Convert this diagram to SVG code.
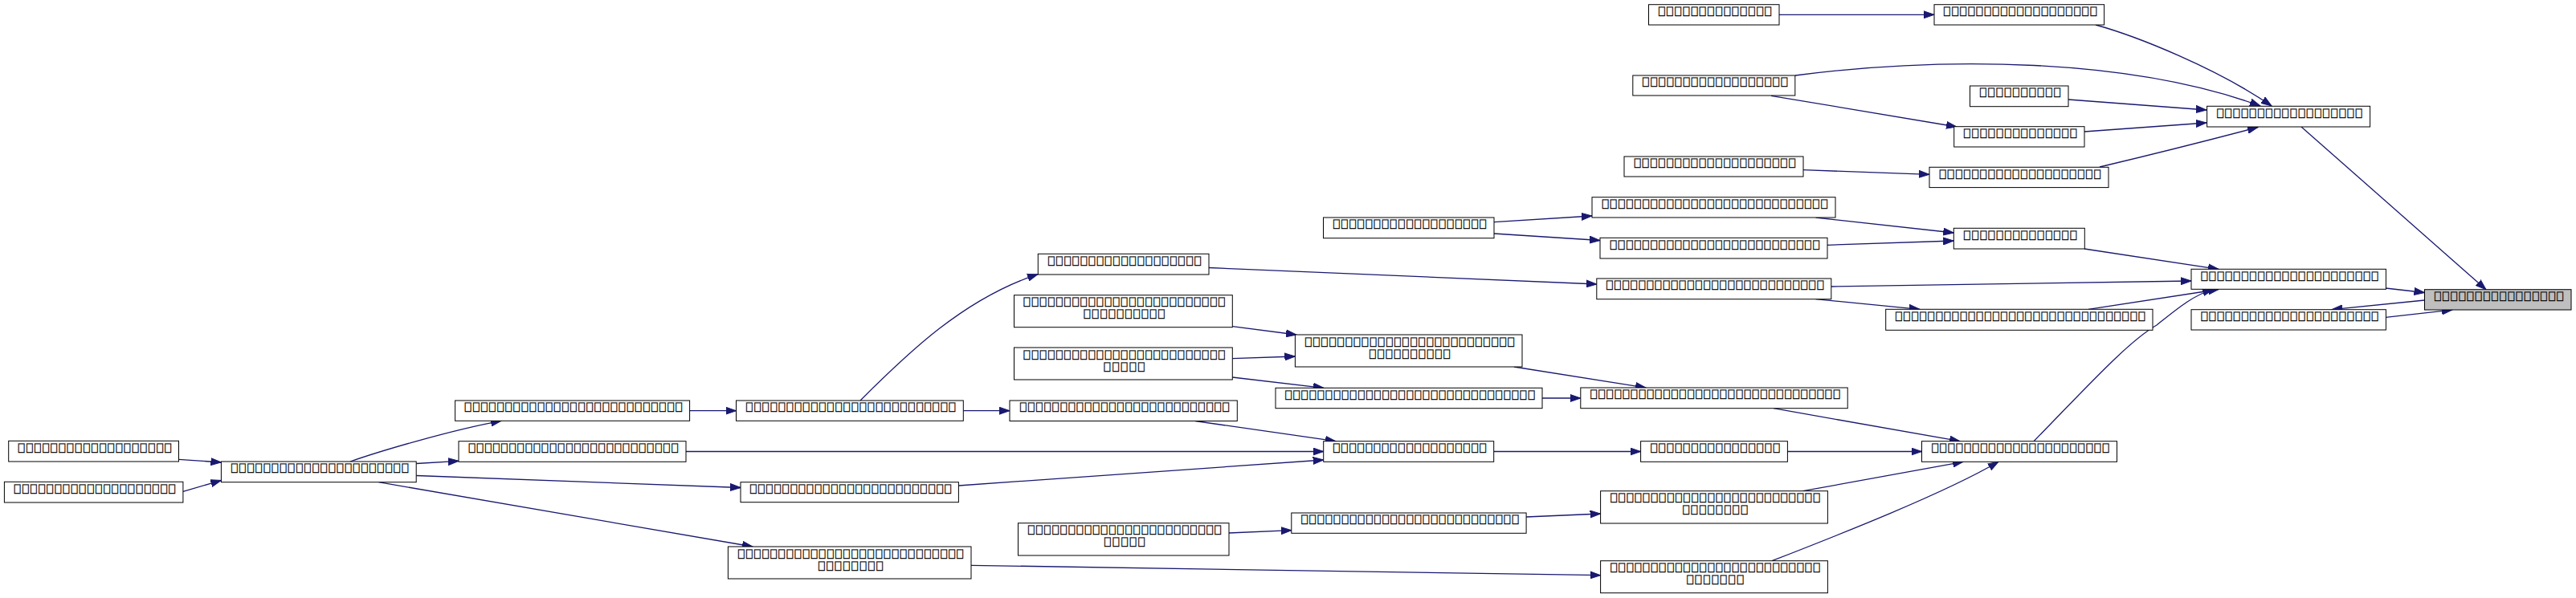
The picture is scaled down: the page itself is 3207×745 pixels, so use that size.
<svg xmlns="http://www.w3.org/2000/svg" width="3207" height="745" viewBox="0 0 3207 745">
<defs>
<marker id="arr" markerUnits="userSpaceOnUse" markerWidth="14" markerHeight="10" refX="13" refY="4.5" orient="auto" viewBox="0 0 14 9"><path d="M0,0 L13,4.5 L0,9 z" fill="#191970" stroke="#191970" stroke-width="1"/></marker>
</defs>
<style>
.n rect{fill:#fff;stroke:#000;stroke-width:1}
.n.main rect{fill:#bfbfbf}
.n text{font-family:"DejaVu Sans Mono",monospace;font-size:12.5px;fill:#000;stroke:#000;stroke-width:0.3;text-anchor:middle}
.e path{fill:none;stroke:#191970;stroke-width:1.3;marker-end:url(#arr)}
</style>
<rect width="3207" height="745" fill="#fff"/>
<g id="edges" class="e">
<path d="M2215,18.3 L2408,18.3"/>
<path d="M2609,31 C2660,45 2760,85 2828,132"/>
<path d="M2235,94 C2420,70 2650,72 2814,132"/>
<path d="M2205,119.3 L2436,158"/>
<path d="M2575,124 L2747,137"/>
<path d="M2595,164 L2747,153"/>
<path d="M2245,211.7 L2402,217.3"/>
<path d="M2614,208 C2660,197 2760,172 2811,158.5"/>
<path d="M2865,158 L3095,360.7"/>
<path d="M1860,276.7 L1982,269"/>
<path d="M1860,291 L1992,299.5"/>
<path d="M2260.5,271 L2432.3,290"/>
<path d="M2275,305.3 L2432.3,300"/>
<path d="M2595,310 L2762,335.3"/>
<path d="M2280,357 L2728,350"/>
<path d="M2260.5,372.7 L2390,385.3"/>
<path d="M2600,385.3 L2762,360.5"/>
<path d="M2532,549.7 C2600,480 2650,425 2685,405 C2710,385 2730,368 2755,360.5"/>
<path d="M2970,359 L3018.5,364.5"/>
<path d="M3018.5,374 L2903,385.7"/>
<path d="M2970,395.3 L3053,386"/>
<path d="M1505,333.5 L1987.8,354"/>
<path d="M1534.3,406.7 L1614,417"/>
<path d="M1534.3,446.7 L1612.4,444"/>
<path d="M1534.3,470 L1648,483.3"/>
<path d="M1885,457 L2049,483"/>
<path d="M1920,496 L1967.8,496"/>
<path d="M2208,508.7 L2440,549.7"/>
<path d="M2225.4,562.5 L2392.5,562.5"/>
<path d="M2244.7,611.7 L2444,575.3"/>
<path d="M2206,698.7 C2290,666 2420,615 2488,575.3"/>
<path d="M1488,524.5 L1663,549.7"/>
<path d="M1859.8,562.5 L2042.6,562.5"/>
<path d="M854,562.5 L1647.7,562.5"/>
<path d="M1193.4,605 L1647.7,573"/>
<path d="M436,575 C470,563 560,536 624,524.3"/>
<path d="M858.6,511.7 L916.5,511.7"/>
<path d="M1199.3,511.7 L1257,511.7"/>
<path d="M1071,499 C1130,440 1200,372 1292,341.7"/>
<path d="M518.2,577.5 L571,574.3"/>
<path d="M518.2,592.5 L922,607.5"/>
<path d="M471.4,600.7 L937,681"/>
<path d="M1209,704.3 L1992.6,716.7"/>
<path d="M1530,664 L1607.8,660.7"/>
<path d="M1900,644 L1992.6,640"/>
<path d="M222.5,572.3 L275.4,576"/>
<path d="M227.9,612.3 L275.4,598.5"/>
</g>
<g id="nMain" class="n main"><rect x="3018.5" y="360.7" width="182.5" height="25.3"/><text x="3110.9" y="374" textLength="160">⎕⎕⎕⎕⎕⎕⎕⎕⎕⎕⎕⎕⎕⎕⎕⎕</text></g>
<g id="nC" class="n"><rect x="2052.5" y="5.7" width="162.5" height="25.3"/><text x="2134.9" y="19" textLength="140">⎕⎕⎕⎕⎕⎕⎕⎕⎕⎕⎕⎕⎕⎕</text></g>
<g id="nB" class="n"><rect x="2408" y="5.7" width="211.6" height="25.3"/><text x="2515" y="19" textLength="190">⎕⎕⎕⎕⎕⎕⎕⎕⎕⎕⎕⎕⎕⎕⎕⎕⎕⎕⎕</text></g>
<g id="nD" class="n"><rect x="2032.8" y="94" width="202" height="25"/><text x="2135" y="107.3" textLength="180">⎕⎕⎕⎕⎕⎕⎕⎕⎕⎕⎕⎕⎕⎕⎕⎕⎕⎕</text></g>
<g id="nE" class="n"><rect x="2452.5" y="107" width="122.5" height="25.7"/><text x="2514.9" y="120.3" textLength="100">⎕⎕⎕⎕⎕⎕⎕⎕⎕⎕</text></g>
<g id="nF" class="n"><rect x="2432.7" y="157.7" width="162.3" height="25.3"/><text x="2515" y="171" textLength="140">⎕⎕⎕⎕⎕⎕⎕⎕⎕⎕⎕⎕⎕⎕</text></g>
<g id="nH" class="n"><rect x="2022" y="195" width="223" height="25"/><text x="2134.7" y="208.3" textLength="200">⎕⎕⎕⎕⎕⎕⎕⎕⎕⎕⎕⎕⎕⎕⎕⎕⎕⎕⎕⎕</text></g>
<g id="nG" class="n"><rect x="2402" y="208.3" width="223" height="25.3"/><text x="2514.7" y="221.6" textLength="200">⎕⎕⎕⎕⎕⎕⎕⎕⎕⎕⎕⎕⎕⎕⎕⎕⎕⎕⎕⎕</text></g>
<g id="nA" class="n"><rect x="2747.6" y="132.3" width="203" height="25.7"/><text x="2850.2" y="145.6" textLength="180">⎕⎕⎕⎕⎕⎕⎕⎕⎕⎕⎕⎕⎕⎕⎕⎕⎕⎕</text></g>
<g id="nN1" class="n"><rect x="2728" y="335.3" width="242.4" height="25"/><text x="2850.4" y="348.6" textLength="220">⎕⎕⎕⎕⎕⎕⎕⎕⎕⎕⎕⎕⎕⎕⎕⎕⎕⎕⎕⎕⎕⎕</text></g>
<g id="nN2" class="n"><rect x="2728" y="385.7" width="242.4" height="25.3"/><text x="2850.4" y="399" textLength="220">⎕⎕⎕⎕⎕⎕⎕⎕⎕⎕⎕⎕⎕⎕⎕⎕⎕⎕⎕⎕⎕⎕</text></g>
<g id="nL" class="n"><rect x="1647.5" y="271" width="212.5" height="25.7"/><text x="1754.9" y="284.3" textLength="190">⎕⎕⎕⎕⎕⎕⎕⎕⎕⎕⎕⎕⎕⎕⎕⎕⎕⎕⎕</text></g>
<g id="nJ" class="n"><rect x="1982" y="245.7" width="303" height="25.3"/><text x="2134.7" y="259" textLength="280">⎕⎕⎕⎕⎕⎕⎕⎕⎕⎕⎕⎕⎕⎕⎕⎕⎕⎕⎕⎕⎕⎕⎕⎕⎕⎕⎕⎕</text></g>
<g id="nK" class="n"><rect x="1992" y="296.3" width="283" height="25.7"/><text x="2134.7" y="309.6" textLength="260">⎕⎕⎕⎕⎕⎕⎕⎕⎕⎕⎕⎕⎕⎕⎕⎕⎕⎕⎕⎕⎕⎕⎕⎕⎕⎕</text></g>
<g id="nM" class="n"><rect x="1987.8" y="347" width="292" height="25.7"/><text x="2135" y="360.3" textLength="270">⎕⎕⎕⎕⎕⎕⎕⎕⎕⎕⎕⎕⎕⎕⎕⎕⎕⎕⎕⎕⎕⎕⎕⎕⎕⎕⎕</text></g>
<g id="nI" class="n"><rect x="2432.3" y="284.3" width="163" height="25.7"/><text x="2515" y="297.6" textLength="140">⎕⎕⎕⎕⎕⎕⎕⎕⎕⎕⎕⎕⎕⎕</text></g>
<g id="nN" class="n"><rect x="2347.7" y="385.3" width="332.3" height="26"/><text x="2515" y="398.6" textLength="310">⎕⎕⎕⎕⎕⎕⎕⎕⎕⎕⎕⎕⎕⎕⎕⎕⎕⎕⎕⎕⎕⎕⎕⎕⎕⎕⎕⎕⎕⎕⎕</text></g>
<g id="nO" class="n"><rect x="1292.3" y="316.3" width="212.7" height="25.7"/><text x="1399.9" y="329.6" textLength="190">⎕⎕⎕⎕⎕⎕⎕⎕⎕⎕⎕⎕⎕⎕⎕⎕⎕⎕⎕</text></g>
<g id="nP" class="n"><rect x="1262.5" y="367.7" width="271.8" height="40"/><text x="1399.6" y="381.2" textLength="250">⎕⎕⎕⎕⎕⎕⎕⎕⎕⎕⎕⎕⎕⎕⎕⎕⎕⎕⎕⎕⎕⎕⎕⎕⎕</text><text x="1399.6" y="396.2" textLength="100">⎕⎕⎕⎕⎕⎕⎕⎕⎕⎕</text></g>
<g id="nQ" class="n"><rect x="1612.4" y="417" width="282.6" height="40"/><text x="1754.9" y="430.5" textLength="260">⎕⎕⎕⎕⎕⎕⎕⎕⎕⎕⎕⎕⎕⎕⎕⎕⎕⎕⎕⎕⎕⎕⎕⎕⎕⎕</text><text x="1754.9" y="445.5" textLength="100">⎕⎕⎕⎕⎕⎕⎕⎕⎕⎕</text></g>
<g id="nR" class="n"><rect x="1262.5" y="433" width="271.8" height="40"/><text x="1399.6" y="446.5" textLength="250">⎕⎕⎕⎕⎕⎕⎕⎕⎕⎕⎕⎕⎕⎕⎕⎕⎕⎕⎕⎕⎕⎕⎕⎕⎕</text><text x="1399.6" y="461.5" textLength="50">⎕⎕⎕⎕⎕</text></g>
<g id="nS" class="n"><rect x="1588" y="483.3" width="332" height="25.4"/><text x="1755.2" y="496.6" textLength="310">⎕⎕⎕⎕⎕⎕⎕⎕⎕⎕⎕⎕⎕⎕⎕⎕⎕⎕⎕⎕⎕⎕⎕⎕⎕⎕⎕⎕⎕⎕⎕</text></g>
<g id="nU" class="n"><rect x="1257" y="499" width="283.3" height="25.5"/><text x="1399.9" y="512.3" textLength="260">⎕⎕⎕⎕⎕⎕⎕⎕⎕⎕⎕⎕⎕⎕⎕⎕⎕⎕⎕⎕⎕⎕⎕⎕⎕⎕</text></g>
<g id="nY" class="n"><rect x="1647.7" y="549.7" width="212" height="25.6"/><text x="1754.9" y="563" textLength="190">⎕⎕⎕⎕⎕⎕⎕⎕⎕⎕⎕⎕⎕⎕⎕⎕⎕⎕⎕</text></g>
<g id="nAG" class="n"><rect x="1607.8" y="639" width="292.3" height="25.3"/><text x="1755.2" y="652.3" textLength="270">⎕⎕⎕⎕⎕⎕⎕⎕⎕⎕⎕⎕⎕⎕⎕⎕⎕⎕⎕⎕⎕⎕⎕⎕⎕⎕⎕</text></g>
<g id="nAH" class="n"><rect x="1267.5" y="651.7" width="262.5" height="40.3"/><text x="1399.9" y="665.2" textLength="240">⎕⎕⎕⎕⎕⎕⎕⎕⎕⎕⎕⎕⎕⎕⎕⎕⎕⎕⎕⎕⎕⎕⎕⎕</text><text x="1399.9" y="680.2" textLength="50">⎕⎕⎕⎕⎕</text></g>
<g id="nT" class="n"><rect x="1967.8" y="483" width="332.4" height="25.7"/><text x="2135.2" y="496.3" textLength="310">⎕⎕⎕⎕⎕⎕⎕⎕⎕⎕⎕⎕⎕⎕⎕⎕⎕⎕⎕⎕⎕⎕⎕⎕⎕⎕⎕⎕⎕⎕⎕</text></g>
<g id="nZ" class="n"><rect x="2042.6" y="549.7" width="182.8" height="25.6"/><text x="2135.2" y="563" textLength="160">⎕⎕⎕⎕⎕⎕⎕⎕⎕⎕⎕⎕⎕⎕⎕⎕</text></g>
<g id="nAA" class="n"><rect x="2392.5" y="549.7" width="243" height="25.6"/><text x="2515.2" y="563" textLength="220">⎕⎕⎕⎕⎕⎕⎕⎕⎕⎕⎕⎕⎕⎕⎕⎕⎕⎕⎕⎕⎕⎕</text></g>
<g id="nAF" class="n"><rect x="1992.6" y="611.7" width="282.8" height="40.3"/><text x="2135.2" y="625.2" textLength="260">⎕⎕⎕⎕⎕⎕⎕⎕⎕⎕⎕⎕⎕⎕⎕⎕⎕⎕⎕⎕⎕⎕⎕⎕⎕⎕</text><text x="2135.2" y="640.2" textLength="80">⎕⎕⎕⎕⎕⎕⎕⎕</text></g>
<g id="nAJ" class="n"><rect x="1992.6" y="698.7" width="282.8" height="40"/><text x="2135.2" y="712.2" textLength="260">⎕⎕⎕⎕⎕⎕⎕⎕⎕⎕⎕⎕⎕⎕⎕⎕⎕⎕⎕⎕⎕⎕⎕⎕⎕⎕</text><text x="2135.2" y="727.2" textLength="70">⎕⎕⎕⎕⎕⎕⎕</text></g>
<g id="nW" class="n"><rect x="566.6" y="499" width="292" height="25.3"/><text x="713.8" y="512.3" textLength="270">⎕⎕⎕⎕⎕⎕⎕⎕⎕⎕⎕⎕⎕⎕⎕⎕⎕⎕⎕⎕⎕⎕⎕⎕⎕⎕⎕</text></g>
<g id="nV" class="n"><rect x="916.5" y="499" width="282.8" height="25.3"/><text x="1059.1" y="512.3" textLength="260">⎕⎕⎕⎕⎕⎕⎕⎕⎕⎕⎕⎕⎕⎕⎕⎕⎕⎕⎕⎕⎕⎕⎕⎕⎕⎕</text></g>
<g id="nX" class="n"><rect x="571" y="549.7" width="283" height="25.6"/><text x="713.7" y="563" textLength="260">⎕⎕⎕⎕⎕⎕⎕⎕⎕⎕⎕⎕⎕⎕⎕⎕⎕⎕⎕⎕⎕⎕⎕⎕⎕⎕</text></g>
<g id="nAE" class="n"><rect x="922" y="600.7" width="271.4" height="25"/><text x="1058.9" y="614" textLength="250">⎕⎕⎕⎕⎕⎕⎕⎕⎕⎕⎕⎕⎕⎕⎕⎕⎕⎕⎕⎕⎕⎕⎕⎕⎕</text></g>
<g id="nAI" class="n"><rect x="906.4" y="681" width="302.6" height="40"/><text x="1058.9" y="694.5" textLength="280">⎕⎕⎕⎕⎕⎕⎕⎕⎕⎕⎕⎕⎕⎕⎕⎕⎕⎕⎕⎕⎕⎕⎕⎕⎕⎕⎕⎕</text><text x="1058.9" y="709.5" textLength="80">⎕⎕⎕⎕⎕⎕⎕⎕</text></g>
<g id="nAC" class="n"><rect x="10.7" y="549.3" width="211.8" height="25.7"/><text x="117.8" y="562.6" textLength="190">⎕⎕⎕⎕⎕⎕⎕⎕⎕⎕⎕⎕⎕⎕⎕⎕⎕⎕⎕</text></g>
<g id="nAD" class="n"><rect x="5.4" y="600.3" width="222.5" height="25.7"/><text x="117.8" y="613.6" textLength="200">⎕⎕⎕⎕⎕⎕⎕⎕⎕⎕⎕⎕⎕⎕⎕⎕⎕⎕⎕⎕</text></g>
<g id="nAB" class="n"><rect x="275.4" y="575" width="242.8" height="25.7"/><text x="398" y="588.3" textLength="220">⎕⎕⎕⎕⎕⎕⎕⎕⎕⎕⎕⎕⎕⎕⎕⎕⎕⎕⎕⎕⎕⎕</text></g>
</svg>
